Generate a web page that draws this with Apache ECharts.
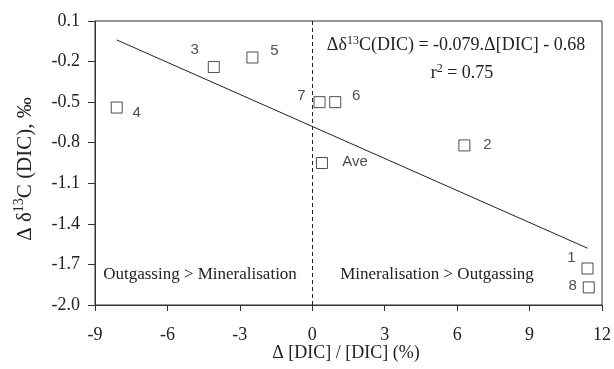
<!DOCTYPE html>
<html><head><meta charset="utf-8">
<script src="https://cdn.jsdelivr.net/npm/echarts@6/dist/echarts.min.js"></script>
<style>html,body{margin:0;padding:0;background:#fff}#c{width:614px;height:369px}</style>
</head><body><div id="c"></div>
<script>
const pointNames = ['4','3','5','7','6','Ave','2','1','8'];
const pointX = [-8.10,-4.08,-2.48,0.30,0.95,0.40,6.30,11.40,11.45];
const pointY = [-0.54,-0.24,-0.17,-0.50,-0.50,-0.95,-0.82,-1.73,-1.87];
const fitX = [-8.1, 11.4];
const fitY = [-0.04, -1.58];
const xTicks = [-9,-6,-3,0,3,6,9,12];
const yTicks = [-2.0,-1.7,-1.4,-1.1,-0.8,-0.5,-0.2,0.1];

const labelOffsets = {'4':[20,5],'3':[-19,-17],'5':[22,-7],'7':[-18,-6],'6':[21,-6],'Ave':[33,-1],'2':[23,-1],'1':[-16,-11],'8':[-16,-2]};
const SERIF = '"Liberation Serif","Times New Roman",serif';
const SANS = '"Liberation Sans",Arial,sans-serif';
const INK = '#222';

const chart = echarts.init(document.getElementById('c'));
const pts = pointNames.map((n,i)=>({
  name:n, value:[pointX[i], pointY[i]],
  label:{offset:labelOffsets[n]}
}));
const supStyle = {fontFamily:SERIF, fontSize:12, padding:[0,0,9,0], fill:INK};
chart.setOption({
  animation:false,
  grid:{left:95, top:21, right:12, bottom:64, show:true, borderColor:'#333', borderWidth:1, backgroundColor:'transparent'},
  xAxis:{type:'value', min:xTicks[0], max:xTicks[xTicks.length-1], interval:3,
    axisLine:{onZero:false, lineStyle:{color:'#333', width:1}},
    axisTick:{length:6, lineStyle:{color:'#333'}},
    splitLine:{show:false},
    axisLabel:{color:INK, fontFamily:SERIF, fontSize:18, margin:21}
  },
  yAxis:{type:'value', min:yTicks[0], max:yTicks[yTicks.length-1],
    axisLine:{onZero:false, lineStyle:{color:'#333', width:1}},
    axisTick:{length:7, lineStyle:{color:'#333'}, customValues:yTicks},
    splitLine:{show:false},
    axisLabel:{color:INK, fontFamily:SERIF, fontSize:18, margin:15, customValues:yTicks,
      formatter:v=>Number(v).toFixed(1)}
  },
  series:[
    {type:'line', data:fitX.map((x,i)=>[x, fitY[i]]), symbol:'none',
      lineStyle:{color:INK, width:1}, silent:true, z:2},
    {type:'scatter', data:pts, symbol:'rect', symbolSize:11,
      itemStyle:{color:'#fff', borderColor:INK, borderWidth:1},
      label:{show:true, position:'inside', formatter:'{b}', color:INK, fontFamily:SANS, fontSize:15},
      z:3,
      markLine:{silent:true, symbol:'none', label:{show:false},
        lineStyle:{type:[4,3], color:INK, width:1},
        data:[{xAxis:0}]}
    }
  ],
  graphic:[
    {type:'text', x:456, y:45, style:{
      text:'Δδ{sup|13}C(DIC) = -0.079.Δ[DIC] - 0.68', align:'center', verticalAlign:'middle',
      fontFamily:SERIF, fontSize:18, fill:INK, rich:{sup:supStyle}}},
    {type:'text', x:462, y:73, style:{
      text:'r{sup|2} = 0.75', align:'center', verticalAlign:'middle',
      fontFamily:SERIF, fontSize:18, fill:INK, rich:{sup:supStyle}}},
    {type:'text', x:200, y:275, style:{text:'Outgassing > Mineralisation', align:'center', verticalAlign:'middle',
      fontFamily:SERIF, fontSize:17, fill:INK}},
    {type:'text', x:437, y:275, style:{text:'Mineralisation > Outgassing', align:'center', verticalAlign:'middle',
      fontFamily:SERIF, fontSize:17, fill:INK}},
    {type:'text', x:346, y:353, style:{text:'Δ [DIC] / [DIC] (%)', align:'center', verticalAlign:'middle',
      fontFamily:SERIF, fontSize:18, fill:INK}},
    {type:'text', x:25, y:169, rotation:Math.PI/2, style:{
      text:'Δ δ{sup|13}C (DIC), ‰', align:'center', verticalAlign:'middle',
      fontFamily:SERIF, fontSize:21, fill:INK,
      rich:{sup:{fontFamily:SERIF, fontSize:14, padding:[0,0,11,0], fill:INK}}}}
  ]
});
</script></body></html>
